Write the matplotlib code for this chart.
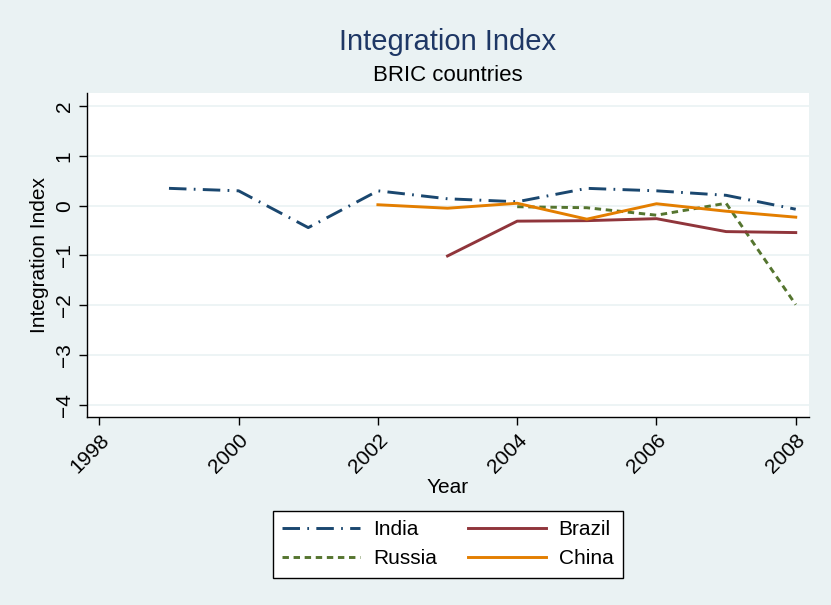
import matplotlib
matplotlib.use("Agg")
import matplotlib.pyplot as plt

plt.rcParams['font.family'] = ['Liberation Sans', 'DejaVu Sans']

years_india = [1999, 2000, 2001, 2002, 2003, 2004, 2005, 2006, 2007, 2008]
india = [0.35, 0.30, -0.44, 0.30, 0.14, 0.08, 0.35, 0.30, 0.21, -0.07]

years_russia = [2004, 2005, 2006, 2007, 2008]
russia = [-0.02, -0.04, -0.19, 0.05, -1.99]

years_brazil = [2003, 2004, 2005, 2006, 2007, 2008]
brazil = [-1.01, -0.31, -0.30, -0.26, -0.52, -0.54]

years_china = [2002, 2003, 2004, 2005, 2006, 2007, 2008]
china = [0.02, -0.05, 0.05, -0.27, 0.04, -0.11, -0.23]

xticks = [1998, 2000, 2002, 2004, 2006, 2008]
yticks = [-4, -3, -2, -1, 0, 1, 2]

bg = "#EAF2F3"
fig = plt.figure(figsize=(8.31, 6.05), dpi=100, facecolor=bg)
ax = fig.add_axes([0.1047, 0.3107, 0.8688, 0.5356])
ax.set_facecolor("white")

ax.plot(years_india, india, color="#1A476F", lw=2.1, dashes=(6, 2.5, 0.6, 2.5), label="India")
ax.plot(years_russia, russia, color="#55752F", lw=2.1, dashes=(2.2, 1.6), label="Russia")
ax.plot(years_brazil, brazil, color="#90353B", lw=2.1, label="Brazil")
ax.plot(years_china, china, color="#E37E00", lw=2.1, label="China")

ax.set_xlim(1997.823, 2008.19)
ax.set_ylim(-4.25, 2.268)
ax.set_xticks(xticks)
ax.set_yticks(yticks)
ax.set_yticklabels([str(t).replace("-", "\u2212") for t in yticks], rotation=90, va="center")
ax.set_xticklabels([str(t) for t in xticks], rotation=45, ha="right", rotation_mode="anchor")
ax.tick_params(labelsize=15, length=6, width=1, color="black")
ax.grid(axis="y", color=bg, lw=1.2)
ax.set_axisbelow(True)
for s in ["top", "right"]:
    ax.spines[s].set_visible(False)
for s in ["left", "bottom"]:
    ax.spines[s].set_linewidth(1.0)

ax.set_xlabel("Year", fontsize=15, labelpad=1)
ax.set_ylabel("Integration Index", fontsize=15, labelpad=4)

fig.text(0.539, 0.930, "Integration Index", ha="center", va="center", fontsize=21, color="#1E3765")
fig.text(0.539, 0.876, "BRIC countries", ha="center", va="center", fontsize=16)

leg = fig.legend(ncol=2, loc="center", bbox_to_anchor=(0.539, 0.1005), fontsize=15,
                 frameon=True, fancybox=False, edgecolor="black", facecolor="white",
                 framealpha=1, handlelength=3.75, handletextpad=0.6, columnspacing=1.5,
                 borderpad=0.45, labelspacing=0.5)
leg.get_frame().set_linewidth(1.0)

fig.savefig("out.png", dpi=100, facecolor=bg)
